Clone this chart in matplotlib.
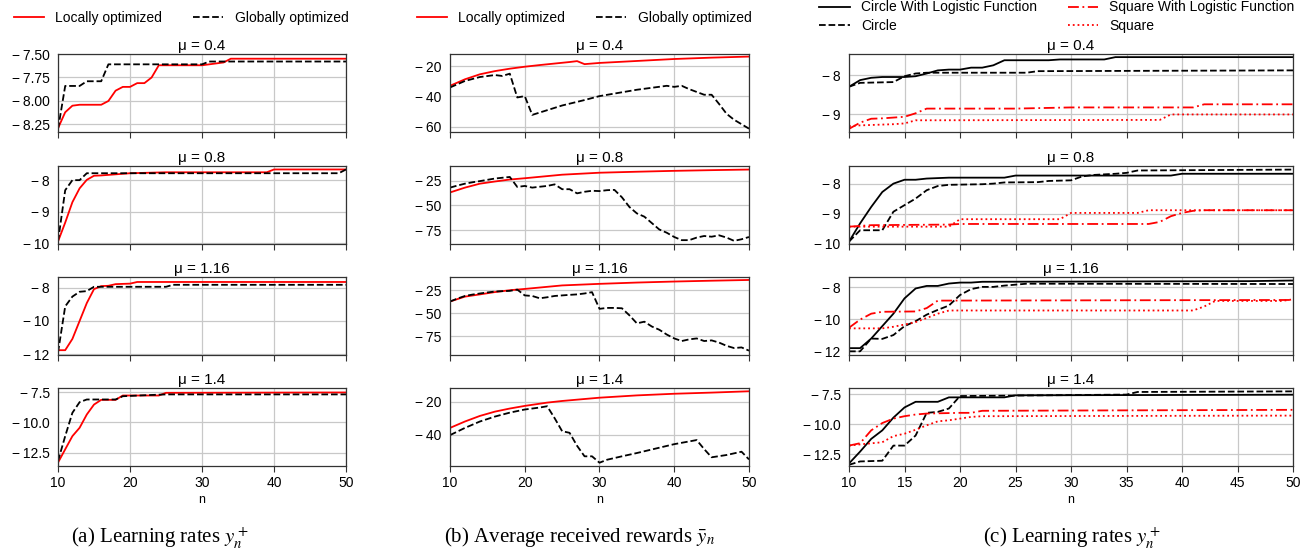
import matplotlib.pyplot as plt
from matplotlib.ticker import MultipleLocator, FuncFormatter

plt.rcParams['font.family'] = ['Liberation Sans', 'DejaVu Sans']
plt.rcParams['mathtext.fontset'] = 'stix'

mus = ["0.4", "0.8", "1.16", "1.4"]

# ---- (a) learning rates, locally vs globally optimized ----
a_local = [
    ([10, 11, 12, 13, 16, 17, 18, 19, 20, 21, 22, 23, 24, 30, 32, 33, 34, 50],
     [-8.29, -8.12, -8.05, -8.04, -8.04, -8.00, -7.89, -7.85, -7.85, -7.81, -7.81, -7.75, -7.62, -7.62, -7.60, -7.59, -7.55, -7.55]),
    ([10, 11, 12, 13, 14, 15, 16, 20, 25, 39, 40, 50],
     [-9.95, -9.35, -8.70, -8.26, -7.99, -7.86, -7.85, -7.78, -7.75, -7.75, -7.66, -7.66]),
    ([10, 11, 12, 13, 14, 15, 16, 17, 18, 20, 21, 50],
     [-11.76, -11.76, -11.08, -10.0, -8.92, -8.08, -7.90, -7.88, -7.78, -7.75, -7.65, -7.65]),
    ([10, 11, 12, 13, 14, 15, 16, 18, 19, 24, 25, 50],
     [-13.32, -12.22, -11.13, -10.44, -9.34, -8.52, -8.13, -8.13, -7.77, -7.77, -7.55, -7.52]),
]
a_global = [
    ([10, 11, 13, 14, 16, 17, 30, 31, 50],
     [-8.30, -7.84, -7.84, -7.79, -7.79, -7.61, -7.61, -7.58, -7.58]),
    ([10, 11, 12, 13, 14, 49, 50],
     [-9.95, -8.32, -8.00, -8.00, -7.78, -7.78, -7.66]),
    ([10, 11, 12, 13, 14, 15, 25, 26, 50],
     [-11.9, -9.12, -8.53, -8.24, -8.20, -7.94, -7.94, -7.82, -7.82]),
    ([10, 11, 12, 13, 14, 18, 19, 22, 25, 50],
     [-13.19, -11.13, -9.2, -8.32, -8.1, -8.1, -7.83, -7.75, -7.68, -7.68]),
]
a_ylims = [(-8.33, -7.50), (-10.03, -7.55), (-12.05, -7.35), (-13.6, -7.15)]
a_ysteps = [0.25, 1, 2, 2.5]
a_ydec = [2, 0, 0, 1]

# ---- (b) average received rewards ----
b_local = [
    ([10, 12, 14, 16, 18, 20, 22, 24, 26, 27, 28, 30, 35, 40, 45, 50],
     [-33, -28.7, -25.4, -23.3, -21.7, -20.4, -19.3, -18.3, -17.3, -16.7, -18.7, -17.9, -16.6, -15.3, -14.4, -13.7]),
    ([10, 12, 14, 16, 18, 20, 25, 30, 35, 40, 45, 50],
     [-36.8, -31.9, -27.9, -25.7, -23.7, -22.4, -18.8, -16.8, -15.8, -14.9, -14.2, -13.6]),
    ([10, 12, 14, 16, 18, 20, 25, 30, 35, 40, 45, 50],
     [-37.2, -31.9, -29.5, -27, -25, -23.6, -19.8, -18.1, -16.7, -15.6, -14.7, -13.9]),
    ([10, 12, 14, 16, 18, 20, 23, 25, 30, 35, 40, 45, 50],
     [-35.8, -31.9, -28.5, -25.9, -24, -22.4, -20.4, -19.4, -17.4, -16, -15, -14.3, -13.5]),
]
b_global = [
    ([10, 12, 14, 16, 17, 18, 19, 20, 21, 25, 28, 30, 35, 39, 40, 41, 42, 44, 45, 46, 47, 48, 50],
     [-34.1, -29.8, -27.2, -25.9, -26.5, -25.0, -40.7, -39.8, -52.2, -46, -42.4, -39.8, -35.6, -33, -33.7, -33,
      -35.2, -38.9, -38.9, -45, -51.5, -55.4, -61.3]),
    (list(range(10, 51)),
     [-31.9, -29.8, -27.9, -26.5, -25.3, -24.0, -22.7, -21.9, -21.1, -31.2, -30.2, -31.9, -31.0, -30.2, -28.6,
      -33.5, -33.5, -37.7, -36.1, -35.1, -35.4, -34.5, -34.2, -41.7, -51.5, -58, -61.3, -67.8, -74.3, -77.6,
      -81.9, -85.1, -85.1, -82.5, -80.9, -81.6, -80.2, -82.5, -85.8, -84.2, -81.9]),
    (list(range(10, 51)),
     [-37.2, -34, -31.2, -29.7, -28.5, -27.4, -26.4, -26, -25.7, -24.3, -30.6, -31.2, -33.7, -32.6, -31.2,
      -30.6, -30, -29.5, -28.5, -27.1, -45.1, -44.1, -44.1, -44.5, -52.1, -60.8, -59, -64.2, -67.7, -72.9,
      -77.1, -79.9, -78.1, -77.1, -79.9, -79.2, -81.6, -85.1, -87.5, -86.8, -90.3]),
    ([10, 12, 14, 16, 18, 20, 22, 23, 24, 25, 26, 27, 28, 29, 30, 31, 33, 35, 40, 43, 44, 45, 47, 49, 50],
     [-40.2, -35.8, -31.9, -28.9, -26.5, -24.6, -23.4, -22.6, -29.9, -37.8, -38.8, -46.7, -53.1, -53.1, -57,
      -55.2, -53.1, -51.1, -45.7, -43.2, -48.7, -53.7, -52.3, -50.3, -55]),
]
b_ylims = [(-63.5, -12), (-89, -10), (-95, -10.7), (-59, -11.5)]
b_ysteps = [20, 25, 25, 20]
b_ydec = [0, 0, 0, 0]

# ---- (c) learning rates, circle / square with and without logistic function ----
c_circle_log = [
    ([10, 11, 12, 13, 15, 16, 17, 18, 19, 20, 21, 22, 23, 24, 28, 29, 33, 34, 50],
     [-8.29, -8.12, -8.06, -8.04, -8.04, -8.02, -7.95, -7.87, -7.85, -7.85, -7.80, -7.80, -7.74, -7.61, -7.61,
      -7.59, -7.59, -7.53, -7.53]),
    ([10, 11, 12, 13, 14, 15, 16, 17, 19, 24, 25, 39, 40, 50],
     [-9.94, -9.33, -8.78, -8.28, -8.00, -7.87, -7.87, -7.83, -7.80, -7.80, -7.73, -7.73, -7.67, -7.67]),
    ([10, 11, 12, 13, 14, 15, 16, 17, 18, 19, 20, 21, 22, 46, 50],
     [-11.82, -11.82, -11.22, -10.44, -9.66, -8.70, -8.08, -7.92, -7.92, -7.77, -7.71, -7.71, -7.66, -7.62, -7.58]),
    ([10, 11, 12, 13, 14, 15, 16, 18, 19, 24, 25, 50],
     [-13.29, -12.3, -11.24, -10.53, -9.47, -8.62, -8.15, -8.15, -7.78, -7.78, -7.61, -7.56]),
]
c_circle = [
    ([10, 11, 14, 15, 16, 17, 26, 27, 50],
     [-8.29, -8.19, -8.17, -8.02, -7.95, -7.93, -7.93, -7.89, -7.87]),
    ([10, 11, 13, 14, 15, 16, 17, 18, 19, 22, 23, 24, 27, 28, 30, 31, 32, 34, 35, 36, 50],
     [-9.94, -9.56, -9.56, -8.94, -8.72, -8.50, -8.22, -8.08, -8.04, -8.02, -8.00, -7.96, -7.95, -7.91, -7.89,
      -7.76, -7.71, -7.67, -7.64, -7.56, -7.53]),
    ([10, 11, 12, 13, 14, 15, 16, 17, 18, 19, 20, 21, 22, 23, 24, 25, 26, 50],
     [-12.02, -12.02, -11.22, -11.24, -11.0, -10.44, -10.13, -9.72, -9.42, -9.15, -8.49, -8.12, -7.98, -7.98,
      -7.90, -7.84, -7.78, -7.80]),
    ([10, 11, 13, 14, 15, 16, 17, 18, 19, 20, 35, 36, 50],
     [-13.4, -13.12, -13.06, -11.8, -11.8, -10.96, -9.07, -8.99, -8.71, -7.67, -7.55, -7.33, -7.28]),
]
c_square_log = [
    ([10, 11, 12, 13, 14, 15, 16, 17, 25, 30, 41, 42, 50],
     [-9.37, -9.21, -9.11, -9.10, -9.08, -9.06, -8.97, -8.85, -8.85, -8.82, -8.82, -8.74, -8.74]),
    ([10, 12, 19, 20, 37, 38, 39, 40, 41, 42, 50],
     [-9.44, -9.39, -9.37, -9.35, -9.35, -9.28, -9.09, -8.98, -8.91, -8.89, -8.89]),
    ([10, 11, 12, 13, 16, 17, 18, 50],
     [-10.54, -10.03, -9.66, -9.54, -9.52, -9.31, -8.84, -8.80]),
    ([10, 11, 12, 13, 14, 15, 16, 17, 20, 21, 22, 50],
     [-11.8, -11.6, -10.53, -9.92, -9.55, -9.35, -9.21, -9.13, -9.07, -9.07, -8.9, -8.82]),
]
c_square = [
    ([10, 11, 12, 14, 15, 16, 38, 39, 50],
     [-9.30, -9.28, -9.27, -9.25, -9.23, -9.15, -9.14, -9.00, -9.00]),
    ([10, 19, 20, 29, 30, 36, 37, 50],
     [-9.44, -9.44, -9.19, -9.19, -8.98, -8.98, -8.89, -8.89]),
    ([10, 13, 14, 15, 16, 17, 18, 19, 41, 42, 43, 49, 50],
     [-10.58, -10.58, -10.48, -10.34, -10.19, -9.93, -9.66, -9.46, -9.46, -9.21, -8.86, -8.86, -8.76]),
    ([10, 11, 13, 14, 15, 16, 17, 18, 19, 20, 21, 22, 50],
     [-11.8, -11.7, -11.52, -11.01, -10.81, -10.48, -10.11, -9.78, -9.69, -9.55, -9.41, -9.35, -9.3]),
]
c_ylims = [(-9.45, -7.45), (-10.02, -7.41), (-12.25, -7.36), (-13.5, -7.0)]
c_ysteps = [1, 1, 2, 2.5]
c_ydec = [0, 0, 0, 1]

captions = ["(a) Learning rates $y_n^+$",
            r"(b) Average received rewards $\bar{y}_n$",
            "(c) Learning rates $y_n^+$"]

W, H = 1307, 555
fig = plt.figure(figsize=(W / 100, H / 100), dpi=100)

col_px = [(58, 346), (450, 749), (849, 1293)]
row_top_px = [54, 166, 277, 388]
row_h = 78


def make_ax(c, r):
    x0, x1 = col_px[c]
    top = row_top_px[r]
    return fig.add_axes([x0 / W, 1 - (top + row_h) / H, (x1 - x0) / W, row_h / H])


def yfmt(dec):
    def f(v, pos):
        s = f"{abs(v):.{dec}f}"
        return ("\u2212\u2009" + s) if v < 0 else s
    return FuncFormatter(f)


def style(ax, r, ylim, ystep, dec, xstep):
    ax.set_xlim(10, 50)
    ax.set_ylim(*ylim)
    ax.xaxis.set_major_locator(MultipleLocator(xstep))
    ax.yaxis.set_major_locator(MultipleLocator(ystep))
    ax.yaxis.set_major_formatter(yfmt(dec))
    ax.grid(True, color='#c8c8c8', lw=0.9)
    ax.set_axisbelow(True)
    for s in ax.spines.values():
        s.set_color('#333333')
        s.set_linewidth(0.9)
    ax.tick_params(axis='x', length=4, width=0.8, color='#333333', labelsize=10, pad=3)
    ax.tick_params(axis='y', length=0, labelsize=10, pad=6)
    ax.set_title("μ = " + mus[r], fontsize=11, pad=3)
    if r < 3:
        ax.tick_params(axis='x', labelbottom=False)
    else:
        ax.set_xlabel("n", fontsize=9, labelpad=3)


leg_kw = dict(loc='center', ncol=2, frameon=False, fontsize=10, handlelength=2.2,
              columnspacing=2.2, handletextpad=0.8)

for r in range(4):
    ax = make_ax(0, r)
    ax.plot(*a_local[r], color='red', lw=1.3, label='Locally optimized')
    ax.plot(*a_global[r], color='black', lw=1.3, ls='--', label='Globally optimized')
    style(ax, r, a_ylims[r], a_ysteps[r], a_ydec[r], 10)
    if r == 0:
        ax.legend(bbox_to_anchor=(181 / W, 1 - 18 / H), bbox_transform=fig.transFigure, **leg_kw)

    ax = make_ax(1, r)
    ax.plot(*b_local[r], color='red', lw=1.3, label='Locally optimized')
    ax.plot(*b_global[r], color='black', lw=1.3, ls='--', label='Globally optimized')
    style(ax, r, b_ylims[r], b_ysteps[r], b_ydec[r], 10)
    if r == 0:
        ax.legend(bbox_to_anchor=(584 / W, 1 - 18 / H), bbox_transform=fig.transFigure, **leg_kw)

    ax = make_ax(2, r)
    ax.plot(*c_circle_log[r], color='black', lw=1.3, label='Circle With Logistic Function')
    ax.plot(*c_circle[r], color='black', lw=1.3, ls='--', label='Circle')
    ax.plot(*c_square_log[r], color='red', lw=1.3, ls=(0, (6, 2, 1, 2)), label='Square With Logistic Function')
    ax.plot(*c_square[r], color='red', lw=1.3, ls=':', label='Square')
    style(ax, r, c_ylims[r], c_ysteps[r], c_ydec[r], 5)
    if r == 0:
        ax.legend(bbox_to_anchor=(1057 / W, 1 - 16.5 / H), bbox_transform=fig.transFigure,
                  labelspacing=0.3, **leg_kw)

for cx, txt in zip([160, 580, 1072], captions):
    fig.text(cx / W, 1 - 537 / H, txt, ha='center', va='center', fontsize=15,
             family=['Liberation Serif', 'DejaVu Serif'])

fig.savefig('out.png', dpi=100)
